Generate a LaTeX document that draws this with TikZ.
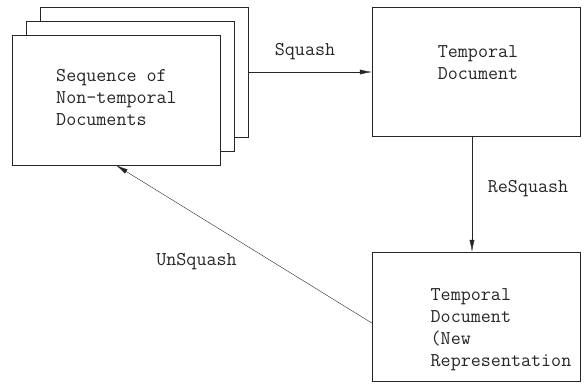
\documentclass[tikz,border=0pt]{standalone}
\usetikzlibrary{arrows.meta}

\tikzset{
	box/.style={rectangle,draw=black!85,fill=white,inner sep=0pt,minimum width=208pt,minimum height=130pt},
	txt/.style={align=left,inner sep=0pt,text=black!85,font=\ttfamily\fontsize{19.5}{22}\selectfont},
}

\begin{document}
\begin{tikzpicture}[x=1pt,y=-1pt,>={Latex[length=12pt,width=5pt]}]
		\useasboundingbox (0,0) rectangle (584,384);
		
		% stack of plain documents
		\node(back) at (144.5,72)[box]{};
		\node(mid) at (130.5,86)[box]{};
		\node(front) at (116,100)[box]{};
		\node(fronttxt) at (116.5,97)[txt]{Sequence of\\Non-temporal\\Documents};
		
		\node(temporal) at (476,71.5)[box,minimum height=129pt]{};
		\node(temporaltxt) at (478,63)[txt]{Temporal\\Document};
		
		\node(newrep) at (476,316.5)[box,minimum height=129pt]{};
		\node(newreptxt) at (501,330)[txt]{Temporal\\Document\\(New\\Representation};
		
		% arrows and their labels
		\draw[->,black!85] (back.east) -- (back.east -| temporal.west);
		\draw[->,black!85] ([xshift=-4pt]temporal.south) -- ([xshift=-4pt]newrep.north);
		\draw[->,black!85] ([yshift=-6.5pt]newrep.west) -- (front.south);
		
		\node(squash) at (305,52)[txt]{Squash};
		\node(resquash) at (528,189)[txt]{ReSquash};
		\node(unsquash) at (196.5,262)[txt]{UnSquash};
		
	\end{tikzpicture}
\end{document}
